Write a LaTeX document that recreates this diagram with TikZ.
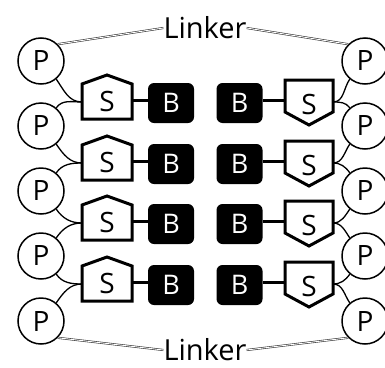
\documentclass[tikz,border=0pt]{standalone}
\usepackage{fontspec}
\setmainfont{Open Sans}
\begin{document}
\begin{tikzpicture}[x=1pt,y=-1pt,
  pcirc/.style={circle,draw=black,line width=1.5pt,fill=white,minimum size=46pt,inner sep=0pt,font=\fontsize{28}{28}\selectfont},
  bbox/.style={rectangle,rounded corners=6pt,fill=black,text=white,minimum width=46pt,minimum height=40pt,inner sep=0pt,font=\fontsize{27}{27}\selectfont},
  stxt/.style={inner sep=0pt,font=\fontsize{28}{28}\selectfont},
  sshape/.style={draw=black,line width=3pt,fill=white,line join=miter},
  sbline/.style={draw=black,line width=3pt},
  pcurve/.style={draw=black,line width=1.3pt},
  linkline/.style={draw=black!80,double=white,double distance=0.9pt,line width=0.6pt},
  lktxt/.style={inner sep=0pt,font=\fontsize{29}{29}\selectfont}]
\useasboundingbox (0,0) rectangle (385,367);
% P circles
\foreach \i/\y in {1/61,2/126,3/191,4/256,5/321}{
  \node[pcirc] (pl\i) at (41,\y) {P};
  \node[pcirc] (pr\i) at (365,\y) {P};
}
% rows
\foreach \i/\L in {1/100,2/161,3/221,4/282}{
  % left S (house)
  \draw[sshape] (82,\L+19) -- (82,\L-16) -- (107,\L-25) -- (132,\L-16) -- (132,\L+19) -- cycle;
  \node[stxt] (sl\i) at (107,\L+1) {S};
  \coordinate (slw\i) at (82,\L+2);
  \coordinate (sle\i) at (132,\L);
  % right S (inverted house)
  \draw[sshape] (285,\L-20) -- (333,\L-20) -- (333,\L+12) -- (309,\L+25) -- (285,\L+12) -- cycle;
  \node[stxt] (sr\i) at (309,\L+4) {S};
  \coordinate (sre\i) at (333,\L+2);
  \coordinate (srw\i) at (285,\L);
  % B boxes
  \node[bbox] (bl\i) at (171,\L+3) {B};
  \node[bbox] (br\i) at (239.5,\L+3) {B};
  \draw[sbline] (sle\i) -- (bl\i.west |- sle\i);
  \draw[sbline] (srw\i) -- (br\i.east |- srw\i);
}
% curves P-S
\foreach \i/\j in {1/2,2/3,3/4,4/5}{
  \draw[pcurve] (pl\i.-50) to[out=-55,in=180] (slw\i);
  \draw[pcurve] (pl\j.50) to[out=55,in=180] (slw\i);
  \draw[pcurve] (pr\i.230) to[out=235,in=0] (sre\i);
  \draw[pcurve] (pr\j.130) to[out=125,in=0] (sre\i);
}
% Linker labels
\node[lktxt] (lt) at (205,28) {Linker};
\node[lktxt] (lb) at (205,350) {Linker};
\draw[linkline] (pl1.45) -- (lt.west);
\draw[linkline] (lt.east) -- (pr1.135);
\draw[linkline] (pl5.-45) -- (lb.west);
\draw[linkline] (lb.east) -- (pr5.-135);
\end{tikzpicture}
\end{document}
